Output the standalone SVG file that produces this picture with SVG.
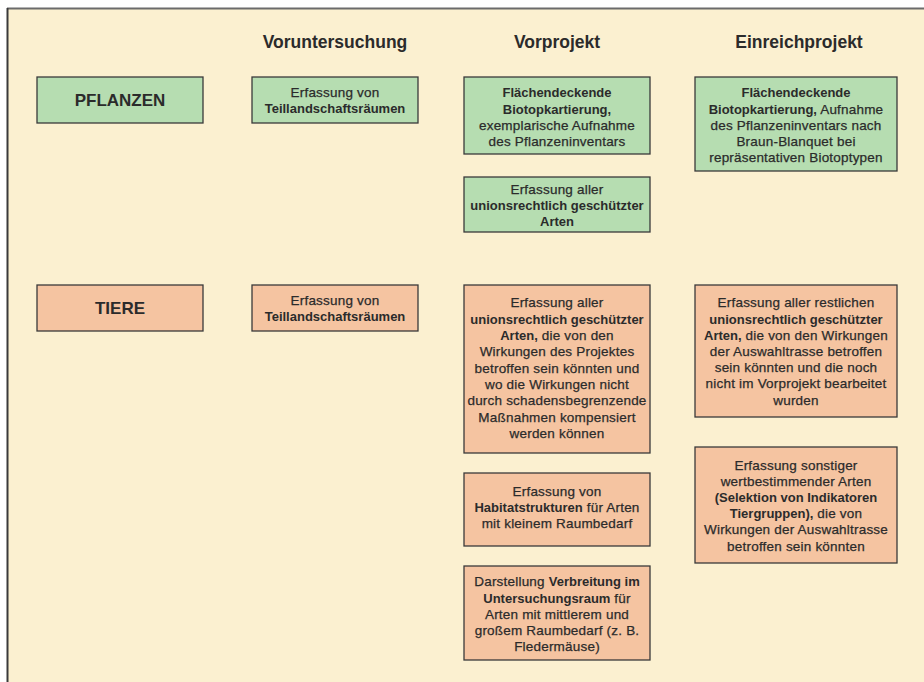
<svg xmlns="http://www.w3.org/2000/svg" width="924" height="682" viewBox="0 0 924 682">
<style>
.bg{fill:#fbf0d0}
.g{fill:#b6ddb1;stroke:#3a3a3a;stroke-width:1.3}
.o{fill:#f5c4a1;stroke:#3a3a3a;stroke-width:1.3}
text{font-family:"Liberation Sans",Arial,sans-serif;fill:#2b2b2b;text-anchor:middle}
.h{font-size:17.5px;font-weight:bold}
.k{font-size:17px;font-weight:bold}
.t{font-size:13.5px;letter-spacing:0.2px;stroke:#2b2b2b;stroke-width:0.25px}
.b{font-size:13px;font-weight:bold;letter-spacing:0;stroke:none}
</style>
<rect x="0" y="0" width="924" height="682" fill="#ffffff"/>
<rect class="bg" x="8" y="9" width="916" height="673"/>
<line x1="7" y1="8.5" x2="924" y2="8.5" stroke="#6b6b6b" stroke-width="2"/>
<line x1="7.5" y1="8" x2="7.5" y2="682" stroke="#3a3a3a" stroke-width="2"/>

<g id="headers">
<text class="h" x="335" y="48">Voruntersuchung</text>
<text class="h" x="557" y="48">Vorprojekt</text>
<text class="h" x="799" y="48">Einreichprojekt</text>
</g>

<g id="pflanzen">
<rect class="g" x="37" y="77" width="166" height="46"/>
<text class="k" x="120" y="106">PFLANZEN</text>
</g>

<g id="pflanzen-voruntersuchung">
<rect class="g" x="252" y="77" width="166" height="46"/>
<text class="t" x="335" y="96.8">Erfassung von</text>
<text class="t b" x="335" y="112.6">Teillandschaftsräumen</text>
</g>

<g id="pflanzen-vorprojekt-1">
<rect class="g" x="464" y="77" width="186" height="77"/>
<text class="t b" x="557" y="97.3">Flächendeckende</text>
<text class="t b" x="557" y="113.5">Biotopkartierung,</text>
<text class="t" x="557" y="129.7">exemplarische Aufnahme</text>
<text class="t" x="557" y="145.9">des Pflanzeninventars</text>
</g>

<g id="pflanzen-vorprojekt-2">
<rect class="g" x="464" y="177" width="186" height="55"/>
<text class="t" x="557" y="193.6">Erfassung aller</text>
<text class="t b" x="557" y="210">unionsrechtlich geschützter</text>
<text class="t b" x="557" y="226.4">Arten</text>
</g>

<g id="pflanzen-einreichprojekt">
<rect class="g" x="695" y="77" width="202" height="94"/>
<text class="t b" x="796" y="97.3">Flächendeckende</text>
<text class="t" x="796" y="113.7"><tspan class="b">Biotopkartierung,</tspan> Aufnahme</text>
<text class="t" x="796" y="129.6">des Pflanzeninventars nach</text>
<text class="t" x="796" y="145.8">Braun-Blanquet bei</text>
<text class="t" x="796" y="162">repräsentativen Biotoptypen</text>
</g>

<g id="tiere">
<rect class="o" x="37" y="285" width="166" height="46"/>
<text class="k" x="120" y="314">TIERE</text>
</g>

<g id="tiere-voruntersuchung">
<rect class="o" x="252" y="285" width="166" height="46"/>
<text class="t" x="335" y="304.6">Erfassung von</text>
<text class="t b" x="335" y="320.6">Teillandschaftsräumen</text>
</g>

<g id="tiere-vorprojekt-1">
<rect class="o" x="464" y="285" width="186" height="168"/>
<text class="t" x="557" y="307.3">Erfassung aller</text>
<text class="t b" x="557" y="323.6">unionsrechtlich geschützter</text>
<text class="t" x="557" y="339.9"><tspan class="b">Arten,</tspan> die von den</text>
<text class="t" x="557" y="356.3">Wirkungen des Projektes</text>
<text class="t" x="557" y="372.6">betroffen sein könnten und</text>
<text class="t" x="557" y="388.9">wo die Wirkungen nicht</text>
<text class="t" x="557" y="405.3">durch schadensbegrenzende</text>
<text class="t" x="557" y="421.6">Maßnahmen kompensiert</text>
<text class="t" x="557" y="437.9">werden können</text>
</g>

<g id="tiere-vorprojekt-2">
<rect class="o" x="464" y="473" width="186" height="73"/>
<text class="t" x="557" y="495.6">Erfassung von</text>
<text class="t" x="557" y="511.8"><tspan class="b">Habitatstrukturen</tspan> für Arten</text>
<text class="t" x="557" y="528">mit kleinem Raumbedarf</text>
</g>

<g id="tiere-vorprojekt-3">
<rect class="o" x="464" y="566" width="186" height="94"/>
<text class="t" x="557" y="586.3">Darstellung <tspan class="b">Verbreitung im</tspan></text>
<text class="t" x="557" y="602.5"><tspan class="b">Untersuchungsraum</tspan> für</text>
<text class="t" x="557" y="618.7">Arten mit mittlerem und</text>
<text class="t" x="557" y="634.9">großem Raumbedarf (z. B.</text>
<text class="t" x="557" y="651.1">Fledermäuse)</text>
</g>

<g id="tiere-einreichprojekt-1">
<rect class="o" x="695" y="285" width="202" height="132"/>
<text class="t" x="796" y="307.3">Erfassung aller restlichen</text>
<text class="t b" x="796" y="323.5">unionsrechtlich geschützter</text>
<text class="t" x="796" y="339.7"><tspan class="b">Arten,</tspan> die von den Wirkungen</text>
<text class="t" x="796" y="355.9">der Auswahltrasse betroffen</text>
<text class="t" x="796" y="372.1">sein könnten und die noch</text>
<text class="t" x="796" y="388.3">nicht im Vorprojekt bearbeitet</text>
<text class="t" x="796" y="404.5">wurden</text>
</g>

<g id="tiere-einreichprojekt-2">
<rect class="o" x="695" y="447" width="202" height="116"/>
<text class="t" x="796" y="469.6">Erfassung sonstiger</text>
<text class="t" x="796" y="485.8">wertbestimmender Arten</text>
<text class="t b" x="796" y="502">(Selektion von Indikatoren</text>
<text class="t" x="796" y="518.2"><tspan class="b">Tiergruppen),</tspan> die von</text>
<text class="t" x="796" y="534.4">Wirkungen der Auswahltrasse</text>
<text class="t" x="796" y="550.6">betroffen sein könnten</text>
</g>
</svg>
